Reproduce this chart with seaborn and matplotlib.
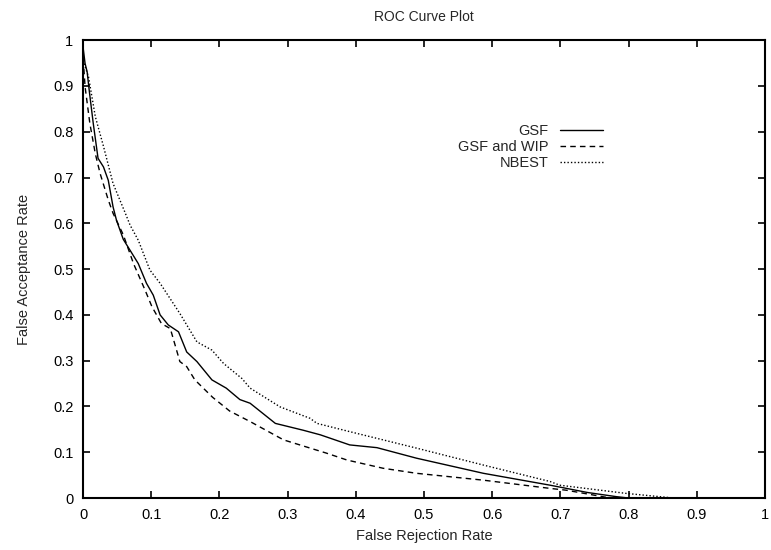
import pandas as pd
import matplotlib
matplotlib.use("Agg")
import matplotlib.pyplot as plt
import seaborn as sns

gsf_x = [0, 0.003, 0.006, 0.009, 0.015, 0.022, 0.030, 0.037, 0.044, 0.049, 0.059, 0.069,
         0.081, 0.093, 0.103, 0.113, 0.125, 0.140, 0.152, 0.167, 0.189, 0.21, 0.23, 0.245,
         0.282, 0.323, 0.348, 0.391, 0.431, 0.489, 0.587, 0.685, 0.74, 0.782, 0.80]
gsf_y = [0.985, 0.949, 0.931, 0.891, 0.818, 0.742, 0.723, 0.694, 0.636, 0.607, 0.565, 0.541,
         0.512, 0.469, 0.443, 0.400, 0.378, 0.363, 0.319, 0.298, 0.258, 0.24, 0.215, 0.207,
         0.163, 0.148, 0.138, 0.116, 0.110, 0.087, 0.054, 0.028, 0.012, 0.003, 0.0]

wip_x = [0, 0.001, 0.003, 0.010, 0.018, 0.025, 0.037, 0.044, 0.059, 0.074, 0.091,
         0.101, 0.115, 0.128, 0.142, 0.152, 0.164, 0.19, 0.215, 0.245, 0.294, 0.357, 0.387,
         0.440, 0.489, 0.587, 0.685, 0.709, 0.773]
wip_y = [0.98, 0.942, 0.898, 0.818, 0.752, 0.709, 0.651, 0.622, 0.575, 0.512, 0.454,
         0.418, 0.381, 0.370, 0.298, 0.287, 0.258, 0.22, 0.19, 0.167, 0.127, 0.098, 0.083,
         0.065, 0.054, 0.039, 0.021, 0.017, 0.0]

nbest_x = [0, 0.008, 0.018, 0.030, 0.044, 0.062, 0.069, 0.081, 0.098, 0.113, 0.142, 0.167,
           0.189, 0.206, 0.233, 0.245, 0.289, 0.333, 0.343, 0.391, 0.489, 0.587, 0.685,
           0.699, 0.797, 0.866]
nbest_y = [0.956, 0.92, 0.833, 0.768, 0.687, 0.622, 0.596, 0.563, 0.498, 0.469, 0.403, 0.341,
           0.323, 0.294, 0.261, 0.240, 0.199, 0.174, 0.163, 0.145, 0.109, 0.072, 0.036,
           0.028, 0.010, 0.0]

series = {
    'GSF': (gsf_x, gsf_y, '-'),
    'GSF and WIP': (wip_x, wip_y, (0, (4, 3))),
    'NBEST': (nbest_x, nbest_y, (0, (1, 1.5))),
}

sns.set_theme(style="white")
plt.rcParams['font.family'] = ['Liberation Sans', 'DejaVu Sans']
plt.rcParams['font.size'] = 10.5

fig = plt.figure(figsize=(7.71, 5.5), dpi=100)
ax = fig.add_axes([0.1077, 0.0945, 0.8845, 0.8325])

for nome, (xs, ys, estilo) in series.items():
    df = pd.DataFrame({'x': xs, 'y': ys})
    sns.lineplot(data=df, x='x', y='y', ax=ax, color='black', linewidth=1.0,
                 linestyle=estilo, sort=False, estimator=None, label=nome)

ax.set_xlim(0, 1)
ax.set_ylim(0, 1)
ticks = [i / 10 for i in range(11)]
ax.set_xticks(ticks)
ax.set_yticks(ticks)
fmt = lambda v: '0' if v == 0 else ('1' if v == 1 else f'{v:.1f}')
ax.set_xticklabels([fmt(t) for t in ticks], fontsize=10.5)
ax.set_yticklabels([fmt(t) for t in ticks], fontsize=10.5)
ax.tick_params(direction='in', length=5, width=1.2, top=True, right=True,
               bottom=True, left=True, pad=7, colors='black')
for s in ax.spines.values():
    s.set_visible(True)
    s.set_linewidth(1.5)
    s.set_color('black')

ax.set_title('ROC Curve Plot', fontsize=10, pad=14)
ax.set_xlabel('False Rejection Rate', fontsize=10.5, labelpad=5)
ax.set_ylabel('False Acceptance Rate', fontsize=10.5, labelpad=16)

leg = ax.legend(loc='upper right', bbox_to_anchor=(0.771, 0.829), frameon=False,
                markerfirst=False, handlelength=2.95, handletextpad=0.8,
                labelspacing=0.12, fontsize=10.5, borderaxespad=0)

fig.savefig('out.png', dpi=100)
